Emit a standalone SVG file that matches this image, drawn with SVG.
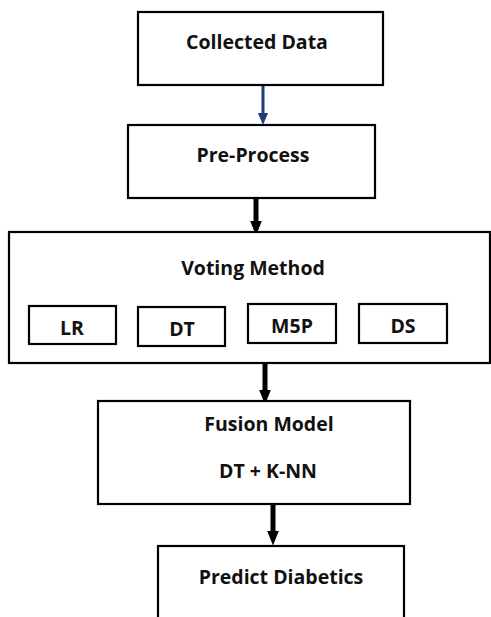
<svg xmlns="http://www.w3.org/2000/svg" width="491" height="617" viewBox="0 0 491 617">
  <style>
    .box { fill: #ffffff; stroke: #000000; stroke-width: 2.2; }
    .lbl { font-family: "Open Sans", "Liberation Sans", sans-serif; font-weight: bold; font-size: 19.5px; fill: #111111; text-anchor: middle; dominant-baseline: central; }
    .thick { stroke: #000000; stroke-width: 5; fill: none; }
    .thin { stroke: #1f3e78; stroke-width: 3; fill: none; }
  </style>
  <defs>
    <marker id="headBlack" markerWidth="3" markerHeight="3" refX="1.5" refY="1.5" orient="auto" markerUnits="strokeWidth">
      <path d="M0,0.3 L3,1.5 L0,2.7 Z" fill="#000000"/>
    </marker>
    <marker id="headBlue" markerWidth="4" markerHeight="4" refX="2" refY="2" orient="auto" markerUnits="strokeWidth">
      <path d="M0,0.3 L4,2 L0,3.7 Z" fill="#1f3e78"/>
    </marker>
  </defs>
  <rect width="491" height="617" fill="#ffffff"/>

  <!-- connectors -->
  <g id="connectors">
    <line class="thin" x1="263" y1="86" x2="263" y2="119" marker-end="url(#headBlue)"/>
    <line class="thick" x1="256" y1="199" x2="256" y2="228" marker-end="url(#headBlack)"/>
    <line class="thick" x1="265" y1="364" x2="265" y2="397" marker-end="url(#headBlack)"/>
    <line class="thick" x1="273" y1="505" x2="273" y2="538" marker-end="url(#headBlack)"/>
  </g>

  <g id="collected-data">
    <rect class="box" x="138" y="12" width="245" height="73"/>
    <text class="lbl" x="257" y="41">Collected Data</text>
  </g>

  <g id="pre-process">
    <rect class="box" x="128" y="125" width="247" height="73"/>
    <text class="lbl" x="253" y="154">Pre-Process</text>
  </g>

  <g id="voting-method">
    <rect class="box" x="9" y="232" width="481" height="131"/>
    <text class="lbl" x="253" y="267">Voting Method</text>
    <g id="lr">
      <rect class="box" x="29" y="306" width="87" height="38"/>
      <text class="lbl" x="72" y="327">LR</text>
    </g>
    <g id="dt">
      <rect class="box" x="138" y="307" width="87" height="39"/>
      <text class="lbl" x="182" y="328">DT</text>
    </g>
    <g id="m5p">
      <rect class="box" x="248" y="304" width="88" height="39"/>
      <text class="lbl" x="292" y="325">M5P</text>
    </g>
    <g id="ds">
      <rect class="box" x="359" y="304" width="88" height="39"/>
      <text class="lbl" x="403" y="325">DS</text>
    </g>
  </g>

  <g id="fusion-model">
    <rect class="box" x="98" y="401" width="312" height="103"/>
    <text class="lbl" x="269" y="423">Fusion Model</text>
    <text class="lbl" x="268" y="470">DT + K-NN</text>
  </g>

  <g id="predict-diabetics">
    <rect class="box" x="158" y="546" width="246" height="80"/>
    <text class="lbl" x="281" y="576">Predict Diabetics</text>
  </g>
</svg>
